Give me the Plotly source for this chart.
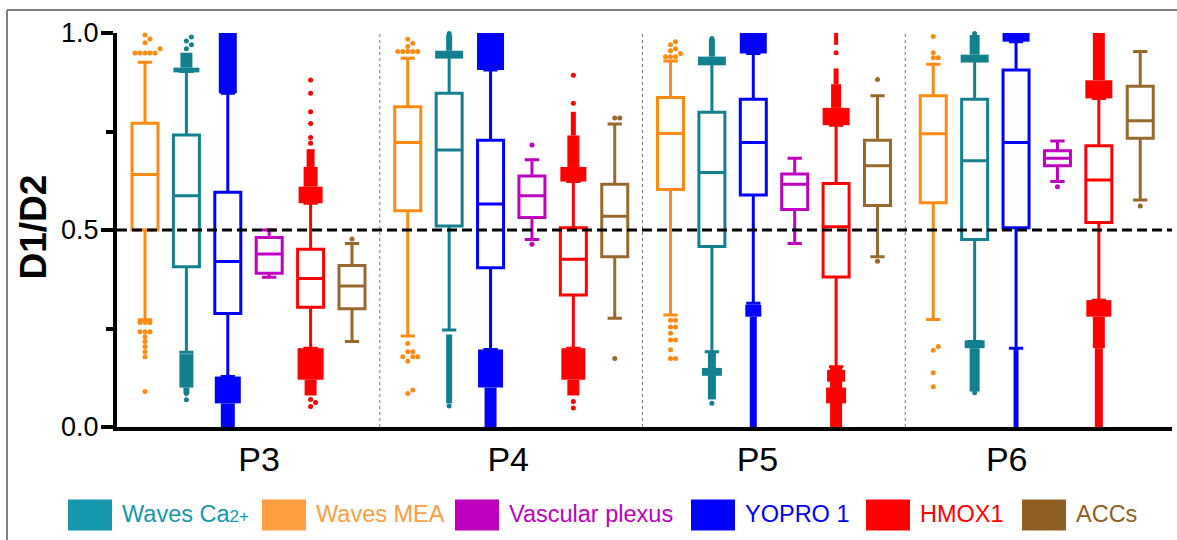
import plotly.graph_objects as go

# ---------------- data ----------------
groups = ["P3", "P4", "P5", "P6"]
series = ["Waves MEA", "Waves Ca2+", "YOPRO 1", "Vascular plexus", "HMOX1", "ACCs"]
legend_order = ["Waves Ca2+", "Waves MEA", "Vascular plexus", "YOPRO 1", "HMOX1", "ACCs"]
legend_text = {
    "Waves Ca2+": "Waves Ca<span style='font-size:17px'>2+</span>",
    "Waves MEA": "Waves MEA",
    "Vascular plexus": "Vascular plexus",
    "YOPRO 1": "YOPRO 1",
    "HMOX1": "HMOX1",
    "ACCs": "ACCs",
}

q1 = {
    "Waves MEA":       [0.500, 0.549, 0.603, 0.569],
    "Waves Ca2+":      [0.407, 0.510, 0.458, 0.476],
    "YOPRO 1":         [0.288, 0.404, 0.589, 0.506],
    "Vascular plexus": [0.390, 0.532, 0.552, 0.663],
    "HMOX1":           [0.304, 0.335, 0.381, 0.519],
    "ACCs":            [0.300, 0.432, 0.562, 0.733],
}
median = {
    "Waves MEA":       [0.641, 0.722, 0.745, 0.744],
    "Waves Ca2+":      [0.587, 0.703, 0.646, 0.676],
    "YOPRO 1":         [0.420, 0.566, 0.722, 0.722],
    "Vascular plexus": [0.439, 0.587, 0.616, 0.682],
    "HMOX1":           [0.377, 0.426, 0.508, 0.627],
    "ACCs":            [0.358, 0.535, 0.663, 0.777],
}
q3 = {
    "Waves MEA":       [0.771, 0.813, 0.836, 0.841],
    "Waves Ca2+":      [0.741, 0.847, 0.799, 0.832],
    "YOPRO 1":         [0.596, 0.728, 0.832, 0.906],
    "Vascular plexus": [0.481, 0.637, 0.642, 0.701],
    "HMOX1":           [0.451, 0.506, 0.618, 0.714],
    "ACCs":            [0.410, 0.616, 0.728, 0.865],
}
lower_whisker = {
    "Waves MEA":       [0.272, 0.231, 0.284, 0.273],
    "Waves Ca2+":      [0.190, 0.246, 0.191, 0.217],
    "YOPRO 1":         [0.128, 0.197, 0.314, 0.200],
    "Vascular plexus": [0.380, 0.476, 0.466, 0.623],
    "HMOX1":           [0.200, 0.200, 0.153, 0.322],
    "ACCs":            [0.217, 0.276, 0.432, 0.576],
}
upper_whisker = {
    "Waves MEA":       [0.926, 0.936, 0.929, 0.921],
    "Waves Ca2+":      [0.902, 0.944, 0.923, 0.931],
    "YOPRO 1":         [0.847, 0.906, 0.948, 0.978],
    "Vascular plexus": [0.500, 0.678, 0.682, 0.726],
    "HMOX1":           [0.568, 0.623, 0.766, 0.834],
    "ACCs":            [0.466, 0.769, 0.841, 0.953],
}

# individual (sparse) outliers per group
outliers = {
    "Waves MEA": [
        [0.995, 0.985, 0.975, 0.960, 0.949, 0.949, 0.949, 0.949, 0.949,
         0.265, 0.265, 0.265, 0.242, 0.242, 0.242, 0.229, 0.217, 0.204, 0.191, 0.178, 0.090],
        [0.984, 0.974, 0.966, 0.953, 0.953, 0.953, 0.953, 0.953,
         0.212, 0.191, 0.191, 0.178, 0.178, 0.178, 0.167, 0.094, 0.085],
        [0.978, 0.970, 0.960, 0.955, 0.948, 0.940, 0.940, 0.940,
         0.271, 0.271, 0.254, 0.254, 0.238, 0.221, 0.221, 0.196, 0.174, 0.174],
        [0.991, 0.950, 0.937, 0.937, 0.204, 0.195, 0.138, 0.102],
    ],
    "Waves Ca2+": [
        [0.960, 0.970, 0.980, 0.990, 0.085, 0.069],
        [0.999, 0.053],
        [0.986, 0.060],
        [0.999, 0.087],
    ],
    "YOPRO 1": [[], [], [], []],
    "Vascular plexus": [[], [0.716, 0.464], [], [0.610]],
    "HMOX1": [
        [0.720, 0.735, 0.770, 0.800, 0.847, 0.881, 0.070, 0.062, 0.052],
        [0.822, 0.893, 0.065, 0.048],
        [0.950],
        [],
    ],
    "ACCs": [[0.477], [0.784, 0.784, 0.174], [0.882, 0.421], [0.561]],
}

# dense clouds of outliers: value ranges (lo, hi) per group
dense_ranges = {
    "Waves MEA": [[], [], [], []],
    "Waves Ca2+": [
        [(0.900, 0.912), (0.912, 0.950), (0.100, 0.185), (0.085, 0.100)],
        [(0.935, 0.955), (0.955, 0.995), (0.060, 0.235)],
        [(0.918, 0.940), (0.940, 0.985), (0.070, 0.190), (0.130, 0.150)],
        [(0.925, 0.945), (0.945, 0.995), (0.200, 0.220), (0.090, 0.200)],
    ],
    "YOPRO 1": [
        [(0.847, 1.000), (0.060, 0.128), (0.000, 0.060)],
        [(0.906, 1.000), (0.100, 0.197), (0.000, 0.100)],
        [(0.948, 1.000), (0.280, 0.310), (0.000, 0.280)],
        [(0.978, 1.000), (0.000, 0.200)],
    ],
    "Vascular plexus": [[], [], [], []],
    "HMOX1": [
        [(0.568, 0.610), (0.610, 0.660), (0.660, 0.705), (0.120, 0.200), (0.080, 0.120)],
        [(0.623, 0.660), (0.660, 0.740), (0.740, 0.800), (0.120, 0.200), (0.080, 0.120)],
        [(0.766, 0.810), (0.810, 0.870), (0.870, 0.910), (0.970, 1.000),
         (0.000, 0.153), (0.115, 0.145), (0.060, 0.100)],
        [(0.834, 0.880), (0.880, 1.000), (0.280, 0.322), (0.200, 0.280), (0.000, 0.200)],
    ],
    "ACCs": [[], [], [], []],
}
# drawn widths (px) of those dense clouds, same layout as dense_ranges
dense_px = {
    "Waves MEA": [[], [], [], []],
    "Waves Ca2+": [[26, 12, 14, 6], [28, 6, 6], [28, 6, 8, 20], [28, 10, 20, 10]],
    "YOPRO 1": [[18, 26, 14], [27, 25, 12], [27, 16, 7], [27, 5]],
    "Vascular plexus": [[], [], [], []],
    "HMOX1": [[24, 14, 8, 26, 12], [26, 12, 5, 24, 12], [27, 10, 5, 4, 12, 18, 20],
              [27, 12, 25, 12, 8]],
    "ACCs": [[], [], [], []],
}

# ---------------- styles ----------------
box_color = {
    "Waves MEA": "#FF8A12",
    "Waves Ca2+": "#13808F",
    "YOPRO 1": "#0000FF",
    "Vascular plexus": "#C000C0",
    "HMOX1": "#FF0000",
    "ACCs": "#98692B",
}
legend_color = {
    "Waves Ca2+": "#1598AD",
    "Waves MEA": "#FF9E40",
    "Vascular plexus": "#BE00BE",
    "YOPRO 1": "#0000FF",
    "HMOX1": "#FF0000",
    "ACCs": "#8F5F23",
}

W, H = 1177, 540
PL, PR, PT, PB = 117, 1172, 33, 427          # plot area in pixels
PW, PH = PR - PL, PB - PT
SLOT = 41.4                                   # px between neighbouring boxes
GROUP = 262.75 / SLOT                         # group width in slots
EDGE = 28 / SLOT                              # first box offset in a group
XMAX = PW / SLOT
BOX_W = 26 / SLOT
DOT = 5.0                                     # outlier marker diameter px
FONT = "Liberation Sans, Arial, sans-serif"


def px_x(X):
    return (X - PL) / PW


def px_y(Y):
    return (PB - Y) / PH


def box_x(g, j):
    return g * GROUP + EDGE + j


def swarm(values, xc):
    """deterministic beeswarm offsets so that dots don't overlap"""
    placed = []
    xs, ys = [], []
    for v in sorted(values):
        ypx = v * PH
        k = 0
        while True:
            off = ((k + 1) // 2) * (1 if k % 2 else -1) * DOT if k else 0.0
            ok = all(not (abs(ypx - py) < DOT * 0.9 and abs(off - px) < DOT * 0.9)
                     for px, py in placed)
            if ok:
                break
            k += 1
        placed.append((off, ypx))
        xs.append(xc + off / SLOT)
        ys.append(v)
    return xs, ys


fig = go.Figure()
shapes = []

for j, s in enumerate(series):
    xs = [box_x(g, j) for g in range(len(groups))]
    fig.add_trace(go.Box(
        x=xs, q1=q1[s], median=median[s], q3=q3[s],
        lowerfence=lower_whisker[s], upperfence=upper_whisker[s],
        width=BOX_W, whiskerwidth=0.55, boxpoints=False,
        line=dict(color=box_color[s], width=3), fillcolor="white",
        showlegend=False, hoverinfo="skip",
    ))

for j, s in enumerate(series):
    px_all, py_all = [], []
    for g in range(len(groups)):
        xc = box_x(g, j)
        a, b = swarm(outliers[s][g], xc)
        px_all += a
        py_all += b
        for (lo, hi), wpx in zip(dense_ranges[s][g], dense_px[s][g]):
            half = wpx / 2 / SLOT
            shapes.append(dict(type="rect", xref="x", yref="y", x0=xc - half, x1=xc + half,
                               y0=lo, y1=hi, fillcolor=box_color[s],
                               line=dict(width=0), layer="above"))
    if px_all:
        fig.add_trace(go.Scatter(
            x=px_all, y=py_all, mode="markers", cliponaxis=False,
            marker=dict(color=box_color[s], size=DOT, line=dict(width=0)),
            showlegend=False, hoverinfo="skip",
        ))

# group separators
for g in range(1, len(groups)):
    shapes.append(dict(type="line", xref="x", yref="y", x0=g * GROUP, x1=g * GROUP,
                       y0=0, y1=1, line=dict(color="#777777", width=1, dash="dot"),
                       layer="below"))
# threshold line
shapes.append(dict(type="line", xref="paper", yref="y", x0=0, x1=1, y0=0.5, y1=0.5,
                   line=dict(color="black", width=3, dash="10px,5px"), layer="above"))
# frame
shapes.append(dict(type="line", xref="paper", yref="paper", x0=px_x(7), x1=px_x(W),
                   y0=px_y(10), y1=px_y(10), line=dict(color="#808080", width=2)))
shapes.append(dict(type="line", xref="paper", yref="paper", x0=px_x(7), x1=px_x(7),
                   y0=px_y(10), y1=px_y(H), line=dict(color="#808080", width=2)))

# legend (manual)
legend_sq_x = [68, 262, 455, 691, 866, 1022]
annotations = []
for name, x0 in zip(legend_order, legend_sq_x):
    shapes.append(dict(type="rect", xref="paper", yref="paper",
                       x0=px_x(x0), x1=px_x(x0 + 44), y0=px_y(530.5), y1=px_y(499.5),
                       fillcolor=legend_color[name], line=dict(width=0)))
    annotations.append(dict(xref="paper", yref="paper", x=px_x(x0 + 52), y=px_y(514),
                            xanchor="left", yanchor="middle", showarrow=False,
                            text=legend_text[name],
                            font=dict(family=FONT, size=23.5, color=legend_color[name])))

annotations.append(dict(xref="paper", yref="paper", x=px_x(33), y=px_y(227.5),
                        xanchor="center", yanchor="middle", showarrow=False, textangle=-90,
                        text="<b>D1/D2</b>", font=dict(family=FONT, size=37, color="black")))

label_pos = [3.43 + g * 6.02 for g in range(len(groups))]

fig.update_layout(
    width=W, height=H,
    margin=dict(l=PL, r=W - PR, t=PT, b=H - PB, pad=0),
    paper_bgcolor="white", plot_bgcolor="white",
    showlegend=False,
    shapes=shapes, annotations=annotations,
    xaxis=dict(range=[0, XMAX], showgrid=False, zeroline=False,
               showline=True, linecolor="black", linewidth=4,
               ticks="", tickvals=label_pos, ticktext=groups,
               tickfont=dict(family=FONT, size=34, color="black"),
               ticklabelstandoff=-1),
    yaxis=dict(range=[0, 1], showgrid=False, zeroline=False,
               showline=True, linecolor="black", linewidth=4,
               ticks="outside", ticklen=12, tickwidth=4, tickcolor="black",
               tickvals=[0, 0.5, 1.0], ticktext=["0.0", "0.5", "1.0"],
               tickfont=dict(family=FONT, size=27, color="black"),
               ticklabelstandoff=-3,
               minor=dict(tickvals=[0.25, 0.75], ticks="outside", ticklen=7,
                          tickwidth=4, tickcolor="black")),
    font=dict(family=FONT),
)

fig.write_html(
    "out.html",
    config={"displayModeBar": False},
    post_script="document.body.style.margin='0';"
                "document.documentElement.style.overflow='hidden';"
                "document.body.style.overflow='hidden';",
)
